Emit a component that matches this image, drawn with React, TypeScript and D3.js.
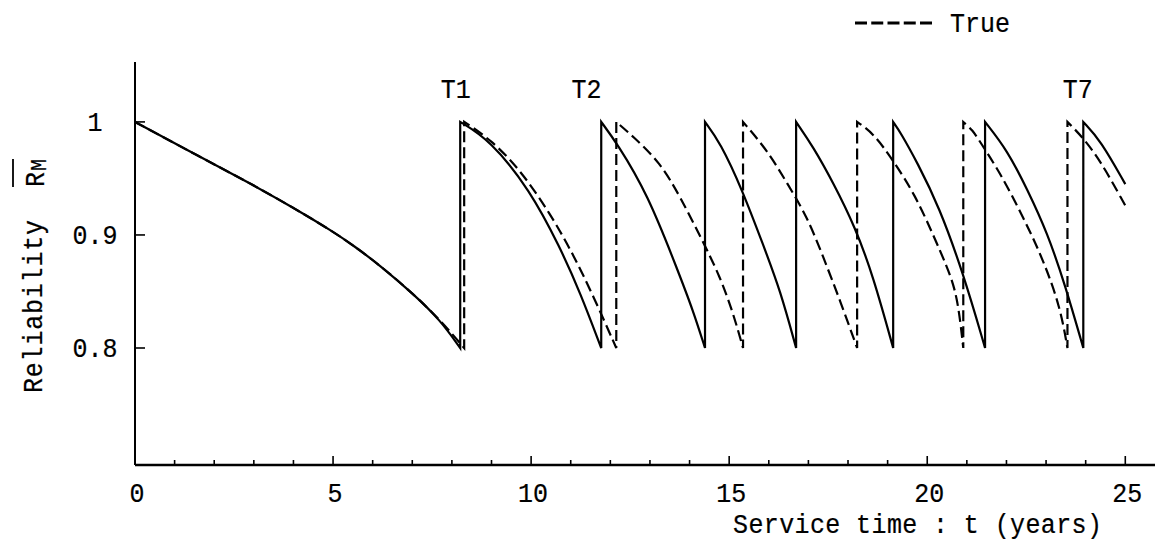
import React from 'react';
import * as d3 from 'd3';

type Pt = [number, number];

const xTickLabels = [0, 5, 10, 15, 20, 25];
const xMinorTicks = d3.range(1, 26);
const yTickValues = [0.8, 0.9, 1];
const yTickLabels = ['0.8', '0.9', '1'];
const xDomain = [0, 25.75];
const yDomain = [0.6965, 1.053];

const maintenanceLabels = [
  { label: 'T1', t: 8.1 },
  { label: 'T2', t: 11.4 },
  { label: 'T7', t: 23.8 },
];

const estimatedSegments: Pt[][] = [
  [[0, 1], [1.64, 0.969], [3, 0.944], [4, 0.924], [5, 0.903], [5.5, 0.891], [6.19, 0.873], [7.02, 0.848], [7.7, 0.825], [8.21, 0.8]],
  [[8.21, 1], [8.96, 0.984], [9.97, 0.94], [10.73, 0.889], [11.24, 0.849], [11.77, 0.8]],
  [[11.77, 1], [12.17, 0.981], [12.93, 0.937], [13.71, 0.868], [14.09, 0.833], [14.39, 0.8]],
  [[14.39, 1], [14.77, 0.982], [15.33, 0.94], [15.86, 0.891], [16.29, 0.851], [16.69, 0.8]],
  [[16.69, 1], [17.12, 0.978], [17.63, 0.946], [18.18, 0.907], [18.64, 0.863], [19.14, 0.8]],
  [[19.14, 1], [19.32, 0.991], [19.75, 0.964], [20.3, 0.925], [20.91, 0.866], [21.46, 0.8]],
  [[21.46, 1], [22.02, 0.975], [22.53, 0.94], [23.03, 0.902], [23.48, 0.856], [23.94, 0.8]],
  [[23.94, 1], [24.37, 0.984], [25, 0.945]],
];

const trueSegments: Pt[][] = [
  [[0, 1], [1.64, 0.969], [3, 0.944], [4, 0.924], [5, 0.903], [5.5, 0.891], [6.19, 0.873], [7.02, 0.848], [7.7, 0.825], [8.31, 0.8]],
  [[8.31, 1], [8.96, 0.985], [9.72, 0.958], [10.48, 0.919], [11.06, 0.883], [11.57, 0.846], [12.15, 0.8]],
  [[12.15, 1], [12.58, 0.987], [13.26, 0.964], [13.76, 0.934], [14.34, 0.894], [14.77, 0.863], [15.1, 0.831], [15.35, 0.8]],
  [[15.35, 1], [15.96, 0.975], [16.46, 0.946], [16.97, 0.916], [17.37, 0.881], [17.8, 0.842], [18.23, 0.8]],
  [[18.23, 1], [18.64, 0.99], [19.14, 0.966], [19.7, 0.935], [20.15, 0.9], [20.5, 0.872], [20.76, 0.847], [20.91, 0.8]],
  [[20.91, 1], [21.14, 0.993], [21.34, 0.982], [21.84, 0.955], [22.42, 0.916], [22.93, 0.878], [23.36, 0.836], [23.54, 0.8]],
  [[23.54, 1], [23.91, 0.987], [24.37, 0.966], [25, 0.926]],
];

const FONT = '"Liberation Mono", "Courier New", monospace';
const SY = 1.12;

type TxtProps = {
  x: number;
  y: number;
  size?: number;
  anchor?: 'start' | 'middle' | 'end';
  len?: number;
  children: React.ReactNode;
};

function Txt({ x, y, size = 25, anchor = 'start', len, children }: TxtProps) {
  return (
    <text
      transform={`translate(${x},${y}) scale(1,${SY})`}
      textAnchor={anchor}
      fontFamily={FONT}
      fontSize={size}
      fill="#000"
      stroke="#000"
      strokeWidth={0.2}
      textLength={len}
      lengthAdjust={len ? 'spacing' : undefined}
    >
      {children}
    </text>
  );
}

export default function App() {
  const W = 1163;
  const H = 548;
  const x = d3.scaleLinear().domain(xDomain).range([135, 1155]);
  const y = d3.scaleLinear().domain(yDomain).range([465, 62]);

  const line = d3
    .line<Pt>()
    .x((d) => x(d[0]))
    .y((d) => y(d[1]))
    .curve(d3.curveBasis);

  const buildPath = (segs: Pt[][]) =>
    segs
      .map((s, i) => {
        const d = line(s) as string;
        return i === 0 ? d : 'L' + d.slice(1);
      })
      .join('');

  const x0 = x(xDomain[0]);
  const y0 = y(yDomain[0]);

  return (
    <svg
      width={W}
      height={H}
      viewBox={`0 0 ${W} ${H}`}
      style={{ position: 'absolute', left: 0, top: 0, background: '#fff' }}
    >
      <rect x={0} y={0} width={W} height={H} fill="#fff" />
      {/* axes */}
      <line x1={x0} y1={y(yDomain[1])} x2={x0} y2={y0} stroke="#000" strokeWidth={2} />
      <line x1={x0} y1={y0} x2={x(xDomain[1])} y2={y0} stroke="#000" strokeWidth={2.6} />
      {xMinorTicks.map((t) => (
        <line
          key={'mt' + t}
          x1={x(t)}
          x2={x(t)}
          y1={y0}
          y2={y0 - (t % 5 === 0 ? 9 : 5)}
          stroke="#000"
          strokeWidth={1.6}
        />
      ))}
      {yTickValues.map((v) => (
        <line key={'yt' + v} x1={x0} x2={x0 + 10} y1={y(v)} y2={y(v)} stroke="#000" strokeWidth={1.6} />
      ))}
      {/* tick labels */}
      {xTickLabels.map((t) => (
        <Txt key={'xl' + t} x={x(t) + 2} y={502} anchor="middle">
          {t}
        </Txt>
      ))}
      {yTickValues.map((v, i) => (
        <Txt key={'yl' + v} x={95} y={y(v) + 9} anchor="middle">
          {yTickLabels[i]}
        </Txt>
      ))}
      {/* axis titles */}
      <Txt x={733} y={533} len={369}>
        Service time : t (years)
      </Txt>
      <g transform="translate(42,393) rotate(-90)">
        <Txt x={0} y={0} len={173}>
          Reliability
        </Txt>
        <Txt x={206} y={2}>
          R
        </Txt>
        <Txt x={222} y={4} size={20}>
          M
        </Txt>
        <line x1={206} x2={234} y1={-29} y2={-29} stroke="#000" strokeWidth={1.8} />
      </g>
      {/* maintenance labels */}
      {maintenanceLabels.map((m) => (
        <Txt key={m.label} x={x(m.t)} y={98} anchor="middle">
          {m.label}
        </Txt>
      ))}
      {/* curves */}
      <path d={buildPath(estimatedSegments)} fill="none" stroke="#000" strokeWidth={2.2} strokeLinejoin="miter" />
      <path
        d={buildPath(trueSegments)}
        fill="none"
        stroke="#000"
        strokeWidth={2.2}
        strokeDasharray="11,5"
      />
      {/* legend */}
      <line x1={855} x2={932} y1={23} y2={23} stroke="#000" strokeWidth={3} strokeDasharray="12,4.25" />
      <Txt x={950} y={32}>
        True
      </Txt>
    </svg>
  );
}
